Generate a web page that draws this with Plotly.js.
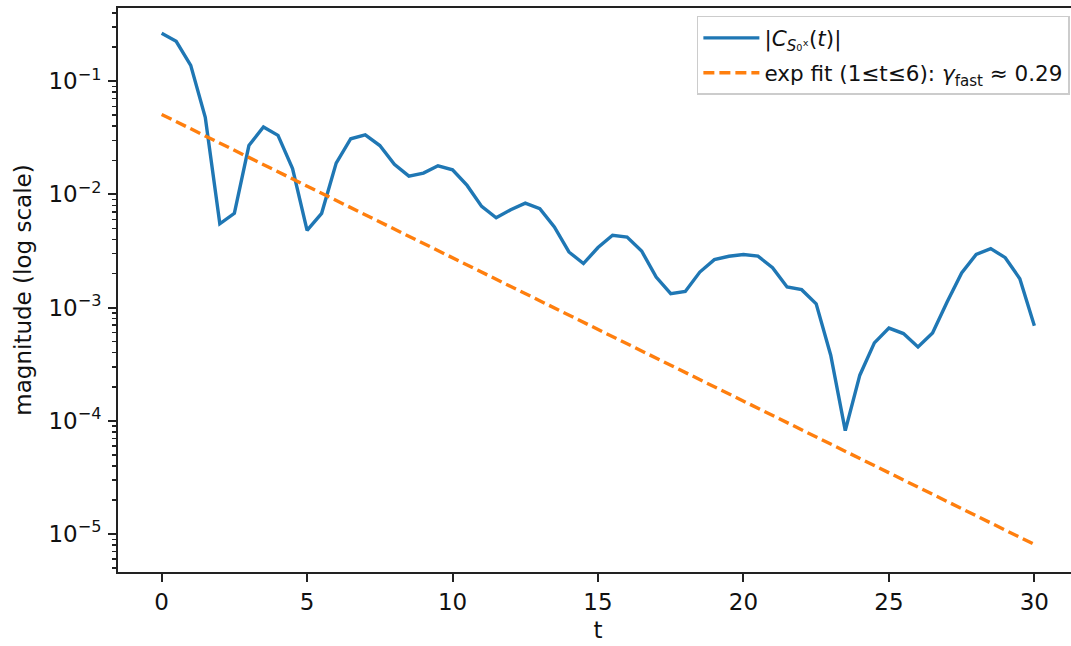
<!DOCTYPE html>
<html>
<head>
<meta charset="utf-8">
<script src="https://cdn.plot.ly/plotly-3.0.1.min.js"></script>
<style>
html,body{margin:0;padding:0;overflow:hidden;background:#fff;}
#chart{width:1090px;height:646px;}
</style>
</head>
<body>
<div id="chart"></div>
<script>
// time axis
const tValues = [0,0.5,1,1.5,2,2.5,3,3.5,4,4.5,5,5.5,6,6.5,7,7.5,8,8.5,9,9.5,10,
  10.5,11,11.5,12,12.5,13,13.5,14,14.5,15,15.5,16,16.5,17,17.5,18,18.5,19,19.5,20,
  20.5,21,21.5,22,22.5,23,23.5,24,24.5,25,25.5,26,26.5,27,27.5,28,28.5,29,29.5,30];
// |C(t)| magnitude
const magnitude = [0.265,0.225,0.138,0.048,0.0055,0.0068,0.027,0.0393,0.0332,0.0169,
  0.0048,0.0068,0.0189,0.031,0.0336,0.027,0.0184,0.0145,0.0154,0.0179,
  0.0165,0.012,0.00783,0.00622,0.00732,0.00837,0.00748,0.00515,0.0031,0.00245,
  0.00339,0.00435,0.0042,0.00316,0.00186,0.00133,0.00139,0.00206,0.00265,0.00284,
  0.00294,0.00285,0.00225,0.00152,0.00144,0.00108,0.00038,0.000082,0.000253,0.000488,
  0.00066,0.00059,0.000449,0.000597,0.00112,0.00202,0.00295,0.00332,0.00276,0.0018,
  0.00069];
// exponential fit endpoints
const fitT = [0, 30];
const fitY = [0.0508, 8.1e-6];
// tick labels
const xTickVals = [0,5,10,15,20,25,30];
const yTickVals = [1e-5,1e-4,1e-3,1e-2,1e-1];
const yTickText = ['10<sup>−5</sup>','10<sup>−4</sup>','10<sup>−3</sup>','10<sup>−2</sup>','10<sup>−1</sup>'];
const decades = [1e-6,1e-5,1e-4,1e-3,1e-2,1e-1];

const minorVals = [];
decades.forEach(d => { for (let m = 2; m <= 9; m++) minorVals.push(m*d); });

const FONT = 'DejaVu Sans, sans-serif';

const traces = [
  {
    x: tValues, y: magnitude, type: 'scatter', mode: 'lines',
    name: '|<i>C</i><sub><i>S</i>₀ˣ</sub>(<i>t</i>)|', legendgroup: 'a',
    line: {color: '#1f77b4', width: 3.4}
  },
  {
    x: fitT, y: fitY, type: 'scatter', mode: 'lines',
    name: 'exp fit (1≤t≤6): <i>γ</i><sub>fast</sub> ≈ 0.29', legendgroup: 'b',
    line: {color: '#ff7f0e', width: 3.4, dash: '11px,5px'}
  }
];

const layout = {
  width: 1090, height: 646,
  margin: {l: 118, r: 12, t: 8, b: 74},
  paper_bgcolor: '#fff', plot_bgcolor: '#fff',
  font: {family: FONT, size: 23, color: '#111'},
  showlegend: true,
  legend: {
    x: 0.603, y: 0.986, xanchor: 'left', yanchor: 'top',
    bgcolor: 'rgba(255,255,255,0.8)', bordercolor: '#cccccc', borderwidth: 1.5,
    font: {family: FONT, size: 21.5, color: '#111'},
    itemwidth: 56, tracegroupgap: 4
  },
  xaxis: {
    range: [-1.5, 31.5], showgrid: false, zeroline: false,
    showline: true, linecolor: '#222', linewidth: 2, mirror: true,
    tickmode: 'array', tickvals: xTickVals,
    ticks: 'outside', ticklen: 8, tickwidth: 2, tickcolor: '#222',
    ticklabelstandoff: 0,
    tickfont: {family: FONT, size: 23, color: '#111'},
    title: {text: 't', font: {family: FONT, size: 23, color: '#111'}, standoff: 8}
  },
  yaxis: {
    type: 'log', range: [-5.335, -0.354], showgrid: false, zeroline: false,
    showline: true, linecolor: '#222', linewidth: 2, mirror: true,
    tickmode: 'array', tickvals: yTickVals, ticktext: yTickText,
    ticks: 'outside', ticklen: 8, tickwidth: 2, tickcolor: '#222',
    ticklabelstandoff: 2,
    tickfont: {family: FONT, size: 23, color: '#111'},
    minor: {tickmode: 'array', tickvals: minorVals, ticks: 'outside', ticklen: 4.5, tickwidth: 1.5, tickcolor: '#222', showgrid: false},
    title: {text: 'magnitude (log scale)', font: {family: FONT, size: 23, color: '#111'}, standoff: 10}
  }
};

Plotly.newPlot('chart', traces, layout, {displayModeBar: false, staticPlot: true});
</script>
</body>
</html>
